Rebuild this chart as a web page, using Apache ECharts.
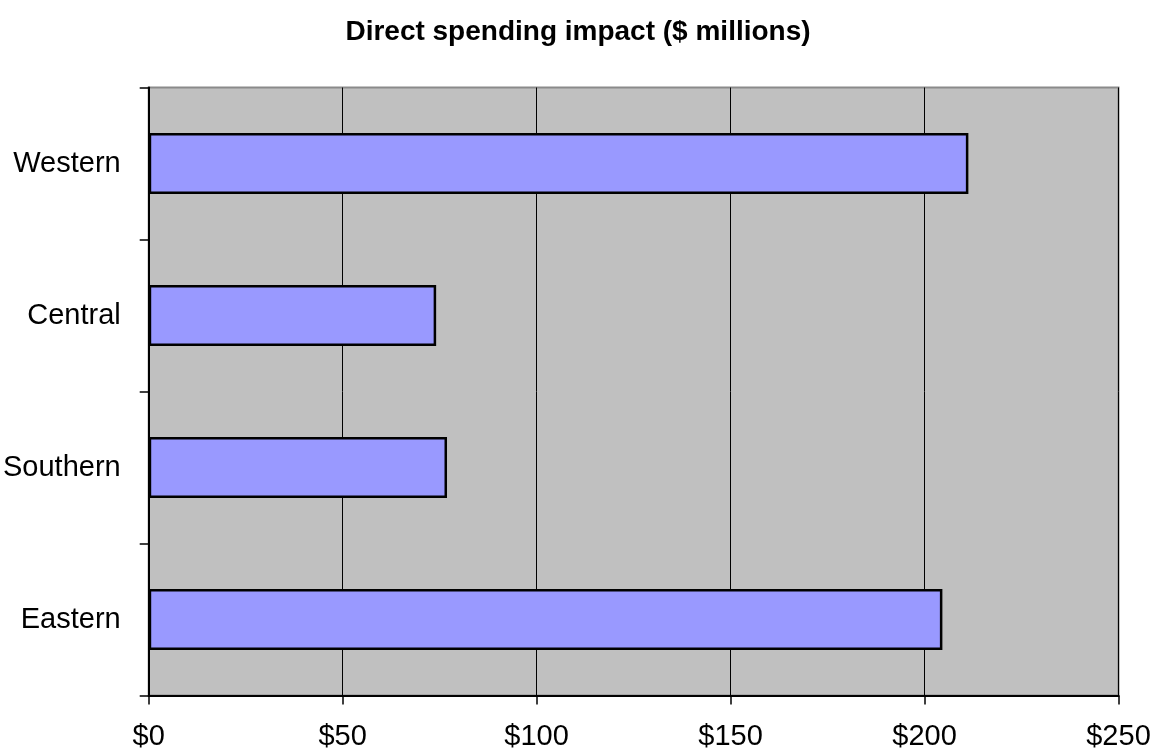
<!DOCTYPE html>
<html><head><meta charset="utf-8">
<script src="https://cdn.jsdelivr.net/npm/echarts@6/dist/echarts.min.js"></script>
<style>html,body{margin:0;padding:0;background:#fff}#c{width:1156px;height:753px}</style>
</head><body><div id="c"></div>
<script>
const categories = ['Western', 'Central', 'Southern', 'Eastern'];
const values = [211.3, 74.1, 76.9, 204.6];
const xTicks = [0, 50, 100, 150, 200, 250];
const titleText = 'Direct spending impact ($ millions)';

const chart = echarts.init(document.getElementById('c'));
chart.setOption({
  animation: false,
  backgroundColor: '#ffffff',
  title: {
    text: titleText, left: 'center', top: 13,
    textStyle: { fontFamily: 'Liberation Sans, Arial, sans-serif', fontWeight: 'bold', fontSize: 28, color: '#000' }
  },
  grid: {
    left: 148.5, right: 37.5, top: 87.5, bottom: 57.5,
    show: true, backgroundColor: '#c0c0c0', borderColor: '#8a8a8a', borderWidth: 2
  },
  xAxis: {
    type: 'value', min: xTicks[0], max: xTicks[xTicks.length - 1], interval: 50,
    axisLine: { show: true, lineStyle: { color: '#000', width: 2 } },
    axisTick: { show: true, length: 9, lineStyle: { color: '#000', width: 1.5 } },
    splitLine: { show: true, lineStyle: { color: '#000', width: 1 } },
    axisLabel: {
      margin: 27, fontFamily: 'Liberation Sans, Arial, sans-serif', fontSize: 29, color: '#000',
      formatter: v => '$' + v
    }
  },
  yAxis: {
    type: 'category', data: categories, inverse: true,
    axisLine: { show: true, lineStyle: { color: '#000', width: 2 } },
    axisTick: { show: true, length: 9, lineStyle: { color: '#000', width: 1.5 } },
    axisLabel: { margin: 28, fontFamily: 'Liberation Sans, Arial, sans-serif', fontSize: 29, color: '#000' }
  },
  series: [{
    type: 'bar', data: values, barCategoryGap: '60%',
    itemStyle: { color: '#9999ff', borderColor: '#000', borderWidth: 2.5 }
  }]
});
</script></body></html>
